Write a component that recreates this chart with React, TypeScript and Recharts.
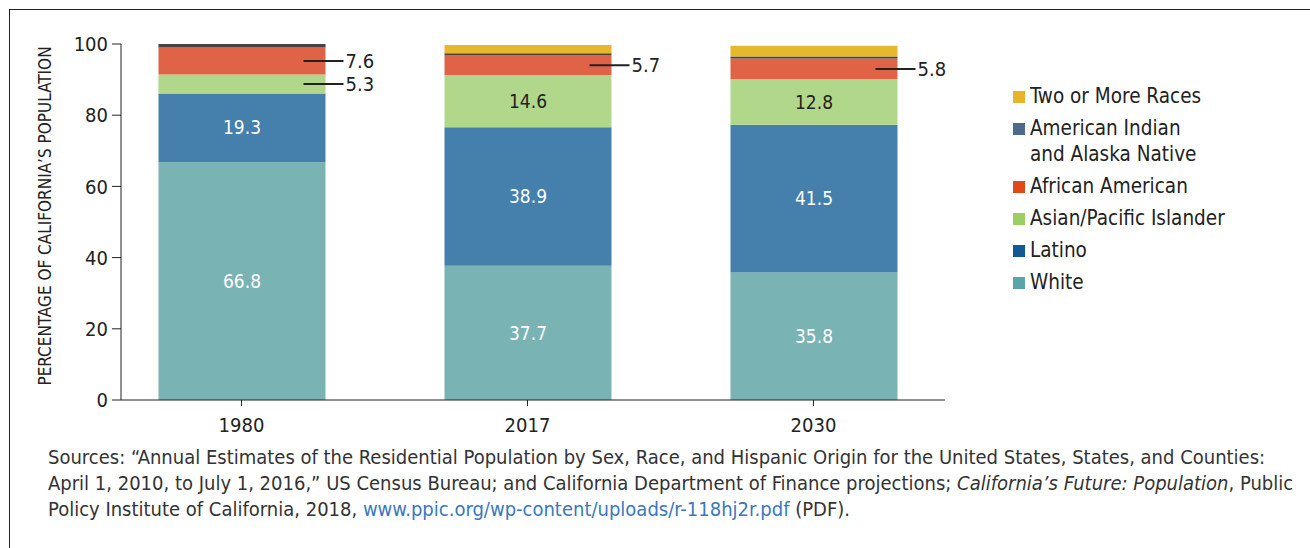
import React from 'react';
import { BarChart, Bar, XAxis, YAxis, LabelList } from 'recharts';

const years = ['1980', '2017', '2030'];
const white = [66.8, 37.7, 35.8];
const latino = [19.3, 38.9, 41.5];
const asian = [5.3, 14.6, 12.8];
const african = [7.6, 5.7, 5.8];
const amIndian = [1.0, 0.5, 0.6];
const twoOrMore = [0, 2.3, 3.0];
const yTicks = [0, 20, 40, 60, 80, 100];

const FONT = '"Liberation Sans Narrow", "DejaVu Sans Condensed", Roboto, sans-serif';

const data = years.map((year, i) => ({
    idx: i,
    year,
    white: white[i],
    latino: latino[i],
    asian: asian[i],
    african: african[i],
    amIndian: amIndian[i],
    twoOrMore: twoOrMore[i],
}));

const legendItems = [
    { label: ['Two or More Races'], color: '#e8b52a' },
    { label: ['American Indian', 'and Alaska Native'], color: '#4c6a8a' },
    { label: ['African American'], color: '#e04a18' },
    { label: ['Asian/Pacific Islander'], color: '#9bcf63' },
    { label: ['Latino'], color: '#125a94' },
    { label: ['White'], color: '#5ba5a6' },
];

const leader = (props: any) => {
    const { x, y, width, height, value } = props;
    const cy = y + height / 2;
    const right = x + width;
    return (
        <g>
            <line x1={right - 22} x2={right + 18} y1={cy} y2={cy} stroke="#222" strokeWidth={2} />
            <text x={right + 20} y={cy} dy="0.35em" fontSize={20} fill="#222" fontFamily={FONT}>
                {value}
            </text>
        </g>
    );
};

const centerLabel = (fill: string) => (props: any) => {
    const { x, y, width, height, value } = props;
    return (
        <text x={x + width / 2} y={y + height / 2} dy="0.35em" textAnchor="middle" fontSize={19} fill={fill} fontFamily={FONT}>
            {value}
        </text>
    );
};

const asianLabel = (props: any) => (props.value < 8 ? leader(props) : centerLabel('#222')(props));

const yLabel = () => (
    <text
        x={45}
        y={216}
        transform="rotate(-90, 45, 216)"
        textAnchor="middle"
        dy="0.35em"
        fontSize={17}
        fill="#222"
        fontFamily={FONT}
    >
        PERCENTAGE OF CALIFORNIA’S POPULATION
    </text>
);

export default function App() {
    return (
        <div style={{ position: 'absolute', left: 0, top: 0, width: 1310, height: 548, background: '#fff', overflow: 'hidden' }}>
            <div style={{ position: 'absolute', left: 9, top: 9, width: 1310, height: 548, borderTop: '1.5px solid #222', borderLeft: '1.5px solid #222' }} />
            <div style={{ position: 'absolute', left: 0, top: 0 }}>
                <BarChart width={1310} height={440} data={data} margin={{ top: 44, right: 365, left: 0, bottom: 0 }}>
                    <XAxis
                        dataKey="idx"
                        type="number"
                        domain={[-0.4213, 2.4598]}
                        ticks={[0, 1, 2]}
                        tickFormatter={(v) => years[v]}
                        allowDataOverflow
                        height={40}
                        tickSize={6}
                        tickMargin={12}
                        stroke="#222"
                        tick={{ fill: '#222', fontSize: 20, fontFamily: FONT }}
                    />
                    <YAxis
                        domain={[0, 100]}
                        ticks={yTicks}
                        width={121}
                        tickSize={9}
                        tickMargin={4}
                        stroke="#222"
                        tick={{ fill: '#222', fontSize: 20, fontFamily: FONT }}
                        label={yLabel}
                    />
                    <Bar dataKey="white" stackId="a" fill="#7ab3b3" barSize={167} isAnimationActive={false}>
                        <LabelList dataKey="white" content={centerLabel('#fff')} />
                    </Bar>
                    <Bar dataKey="latino" stackId="a" fill="#4480ab" barSize={167} isAnimationActive={false}>
                        <LabelList dataKey="latino" content={centerLabel('#fff')} />
                    </Bar>
                    <Bar dataKey="asian" stackId="a" fill="#b1d78a" barSize={167} isAnimationActive={false}>
                        <LabelList dataKey="asian" content={asianLabel} />
                    </Bar>
                    <Bar dataKey="african" stackId="a" fill="#e06347" barSize={167} isAnimationActive={false}>
                        <LabelList dataKey="african" content={leader} />
                    </Bar>
                    <Bar dataKey="amIndian" stackId="a" fill="#444444" barSize={167} isAnimationActive={false} />
                    <Bar dataKey="twoOrMore" stackId="a" fill="#e6b82e" barSize={167} isAnimationActive={false} />
                </BarChart>
            </div>
            <div style={{ position: 'absolute', left: 1013, top: 83, fontFamily: FONT, fontSize: 20.5, color: '#222' }}>
                {legendItems.map((item) => (
                    <div key={item.label[0]} style={{ display: 'flex', alignItems: 'flex-start', marginBottom: 6 }}>
                        <span style={{ width: 12, height: 12, background: item.color, marginTop: 8, marginRight: 5, flexShrink: 0 }} />
                        <span style={{ lineHeight: '26px' }}>
                            {item.label.map((l) => (
                                <div key={l}>{l}</div>
                            ))}
                        </span>
                    </div>
                ))}
            </div>
            <div
                style={{
                    position: 'absolute',
                    left: 48,
                    top: 444,
                    fontFamily: FONT,
                    fontSize: 20,
                    lineHeight: '26px',
                    color: '#333',
                    whiteSpace: 'nowrap',
                }}
            >
                Sources: “Annual Estimates of the Residential Population by Sex, Race, and Hispanic Origin for the United States, States, and Counties:
                <br />
                April 1, 2010, to July 1, 2016,” US Census Bureau; and California Department of Finance projections; <i>California’s Future: Population</i>, Public
                <br />
                Policy Institute of California, 2018, <span style={{ color: '#3a78c0' }}>www.ppic.org/wp-content/uploads/r-118hj2r.pdf</span> (PDF).
            </div>
        </div>
    );
}
